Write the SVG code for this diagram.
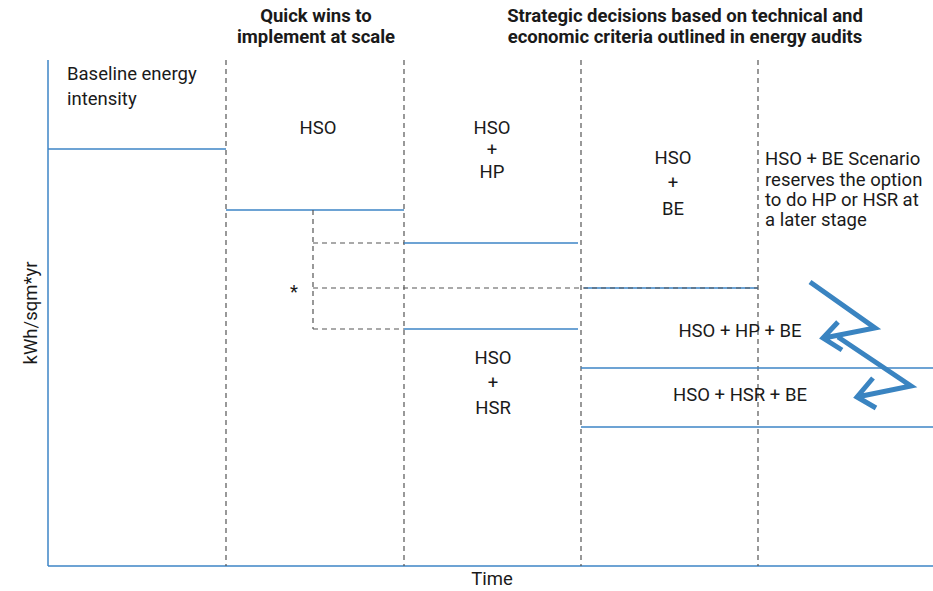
<svg xmlns="http://www.w3.org/2000/svg" width="933" height="591" viewBox="0 0 933 591">
<style>
text{font-family:Roboto,"Liberation Sans",sans-serif;font-size:18.5px;fill:#1a1a1a}
.b{font-weight:bold}
.m{text-anchor:middle}
.lvl{stroke:#3d85c6;stroke-width:1.5;fill:none}
.dash{stroke:#555;stroke-width:1.2;stroke-dasharray:5,4;fill:none}
.zig{stroke:#3a84c1;stroke-width:5;fill:none;stroke-linejoin:miter;stroke-linecap:butt}
</style>
<rect width="933" height="591" fill="#fff"/>
<g id="axes">
<line class="lvl" x1="48" y1="60" x2="48" y2="566"/>
<line class="lvl" x1="48" y1="566" x2="933" y2="566"/>
<text class="m" transform="translate(37,313) rotate(-90)">kWh/sqm*yr</text>
<text class="m" x="492" y="585">Time</text>
</g>
<g id="phases">
<line class="dash" x1="226" y1="60" x2="226" y2="566"/>
<line class="dash" x1="404" y1="60" x2="404" y2="566"/>
<line class="dash" x1="581" y1="60" x2="581" y2="566"/>
<line class="dash" x1="758" y1="60" x2="758" y2="566"/>
<text class="b m" x="316" y="22">Quick wins to</text>
<text class="b m" x="316" y="43">implement at scale</text>
<text class="b m" x="685" y="22">Strategic decisions based on technical and</text>
<text class="b m" x="685" y="43">economic criteria outlined in energy audits</text>
</g>
<g id="baseline">
<line class="lvl" x1="48" y1="149" x2="226" y2="149"/>
<text x="67" y="80">Baseline energy</text>
<text x="67" y="105">intensity</text>
</g>
<g id="hso">
<line class="lvl" x1="226" y1="210" x2="404" y2="210"/>
<text class="m" x="318" y="134">HSO</text>
</g>
<g id="hso-hp">
<line class="lvl" x1="404" y1="243" x2="578" y2="243"/>
<text class="m" x="492" y="134">HSO</text>
<text class="m" x="492" y="156">+</text>
<text class="m" x="492" y="178">HP</text>
</g>
<g id="hso-be">
<line class="lvl" x1="584" y1="288" x2="758" y2="288"/>
<text class="m" x="673" y="164">HSO</text>
<text class="m" x="673" y="189">+</text>
<text class="m" x="673" y="215">BE</text>
</g>
<g id="hso-hsr">
<line class="lvl" x1="404" y1="329" x2="578" y2="329"/>
<text class="m" x="493" y="364">HSO</text>
<text class="m" x="493" y="389">+</text>
<text class="m" x="493" y="414">HSR</text>
</g>
<g id="scenario-note">
<text x="765" y="165">HSO + BE Scenario</text>
<text x="765" y="186">reserves the option</text>
<text x="765" y="206">to do HP or HSR at</text>
<text x="765" y="226">a later stage</text>
</g>
<g id="hso-hp-be">
<line class="lvl" x1="581" y1="368" x2="933" y2="368"/>
<text class="m" x="740" y="337">HSO + HP + BE</text>
</g>
<g id="hso-hsr-be">
<line class="lvl" x1="581" y1="427" x2="933" y2="427"/>
<text class="m" x="740" y="401">HSO + HSR + BE</text>
</g>
<g id="connectors">
<path class="dash" d="M313 210V329M313 243H404M313 288H758M313 329H404"/>
<text x="290" y="298">*</text>
<path class="zig" d="M810 282L875 328L824 338M838 322L823 338L842 350"/>
<path class="zig" d="M838 337L911 386L857 397M873 378L857 397L876 408"/>
</g>
</svg>
